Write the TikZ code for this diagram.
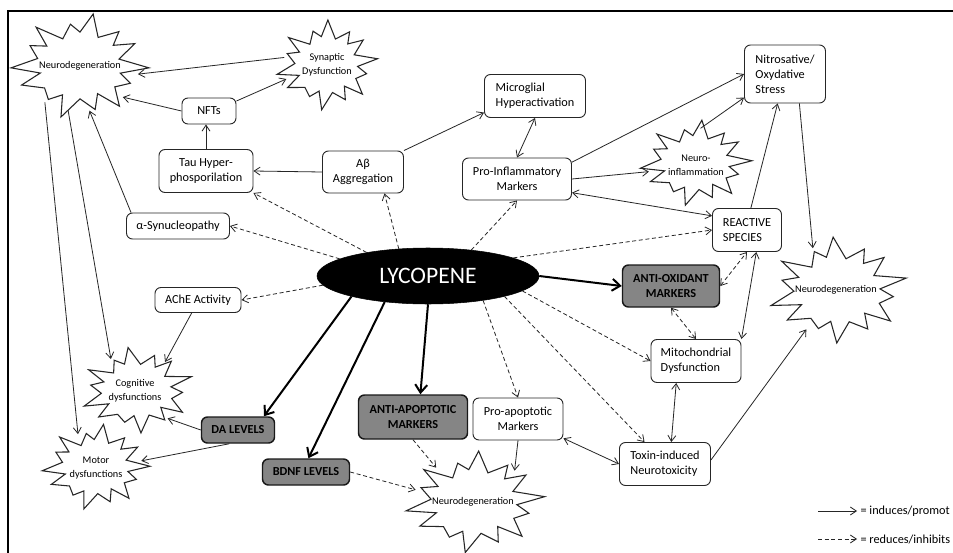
\documentclass[tikz,border=0pt]{standalone}
\usepackage{fontspec}
\setmainfont{Carlito}
\usetikzlibrary{arrows.meta,shapes.geometric}
\newcommand{\boom}[4]{%
  \begin{scope}[shift={#1},xscale=#2,yscale=#3,rotate=#4]
    \draw[starline] (2:1.0) -- (13:0.6) -- (24:0.8) -- (38:0.64) -- (53:0.95) -- (64:0.58) -- (75:0.85)
      -- (90:0.62) -- (106:1.0) -- (115:0.6) -- (126:0.78) -- (141:0.66) -- (157:0.92) -- (167:0.59)
      -- (178:1.0) -- (193:0.63) -- (208:0.82) -- (218:0.61) -- (229:0.97) -- (244:0.57) -- (260:0.8)
      -- (270:0.64) -- (281:1.0) -- (296:0.6) -- (311:0.86) -- (321:0.62) -- (332:0.9) -- (347:0.58) -- cycle;
  \end{scope}}
\tikzset{
  box/.style={draw=black!85, line width=0.7pt, rounded corners=4.5pt, fill=white, align=center, inner sep=0pt,
    font=\fontsize{9.2}{11.25}\selectfont},
  gbox/.style={box, fill=black!48, draw=black!90, line width=1.1pt, font=\bfseries\fontsize{9.2}{11.25}\selectfont},
  burst/.style 2 args={ellipse, inner sep=0pt, align=center, minimum width={1.275*#1*1pt}, minimum height={1.275*#2*1pt},
    font=\fontsize{7.7}{10.5}\selectfont},
  starline/.style={draw=black!85, fill=white, line width=0.8pt},
  arr/.style={draw=black!85, line width=0.6pt, -{Straight Barb[length=4.5pt,width=6pt]}},
  darr/.style={arr, {Straight Barb[length=4.5pt,width=6pt]}-{Straight Barb[length=4.5pt,width=6pt]}},
  dsh/.style={dash pattern=on 3pt off 2pt},
  bigarr/.style={draw=black, line width=1.5pt, -{Straight Barb[length=6pt,width=9pt]}},
  legtext/.style={anchor=west, inner sep=2.5pt, font=\fontsize{9.2}{11}\selectfont},
}
\begin{document}
\begin{tikzpicture}[x=0.75pt,y=-0.75pt]
\useasboundingbox (0,0) rectangle (953,553);
\fill[white] (0,0) rectangle (953,553);
\draw[line width=1.5pt] (953,11) -- (8,11) -- (8,553);

% starbursts
\boom{(80,66)}{69}{53}{0}
\boom{(327,65)}{51}{45}{10}
\boom{(696,163)}{56}{43}{5}
\boom{(838,290)}{70}{53}{15}
\boom{(475,502)}{70}{51}{8}
\boom{(137,390)}{57}{43}{20}
\boom{(96,467)}{54}{43}{3}

\node[burst={69}{53}] (neuTL) at (80,66) {Neurodegeneration};
\node[burst={51}{45}] (syn) at (327,65) {Synaptic\\Dysfunction};
\node[burst={56}{43}] (neuInf) at (696,165) {Neuro-\\inflammation};
\node[burst={70}{53}] (neuR) at (836,290) {Neurodegeneration};
\node[burst={70}{51}] (neuB) at (473,502) {Neurodegeneration};
\node[burst={57}{43}] (cog) at (135,391) {Cognitive\\dysfunctions};
\node[burst={54}{43}] (mot) at (96,468) {Motor\\dysfunctions};

% boxes
\node[box, minimum width=40.5pt, minimum height=19.5pt] (nfts) at (209,111) {NFTs};
\node[box, minimum width=70.5pt, minimum height=32.25pt] (tau) at (206,171) {Tau Hyper-\\phosporilation};
\node[box, minimum width=60.75pt, minimum height=31.5pt] (abeta) at (363,172) {Aβ\\Aggregation};
\node[box, align=left, minimum width=75.75pt, minimum height=32.25pt] (micro) at (535,96) {Microglial\\Hyperactivation};
\node[box, minimum width=81.75pt, minimum height=31.5pt] (proinf) at (517,179) {Pro-Inflammatory\\Markers};
\node[box, align=left, minimum width=60.75pt, minimum height=43.5pt] (nitro) at (785,74) {Nitrosative/\\Oxydative\\Stress};
\node[box, align=left, minimum width=51.75pt, minimum height=32.25pt] (react) at (747,230) {REACTIVE\\SPECIES};
\node[gbox, minimum width=72.75pt, minimum height=31.5pt] (antiox) at (671,286) {ANTI-OXIDANT\\MARKERS};
\node[box, align=left, minimum width=67.5pt, minimum height=32.25pt] (mito) at (696,361) {Mitochondrial\\Dysfunction};
\node[box, align=left, minimum width=68.25pt, minimum height=32.25pt] (toxin) at (665,464) {Toxin-induced\\Neurotoxicity};
\node[box, minimum width=67.5pt, minimum height=31.5pt] (proapop) at (518,419) {Pro-apoptotic\\Markers};
\node[gbox, minimum width=81.75pt, minimum height=33pt] (antiapop) at (413,417) {ANTI-APOPTOTIC\\MARKERS};
\node[gbox, minimum width=65.25pt, minimum height=19.5pt] (bdnf) at (306,472) {BDNF LEVELS};
\node[gbox, minimum width=54.75pt, minimum height=19.5pt] (da) at (238,430) {DA LEVELS};
\node[box, minimum width=77.25pt, minimum height=19.5pt] (asyn) at (178,226) {α-Synucleopathy};
\node[box, minimum width=64.5pt, minimum height=18.75pt] (ache) at (198,300) {AChE Activity};

\node[ellipse, fill=black, draw=black, inner sep=0pt, minimum width=166.5pt, minimum height=42pt,
  text=white, font=\fontsize{17.7}{20}\selectfont] (lyco) at (428,276) {LYCOPENE};

% solid connectors
\draw[arr] (syn.170) -- (neuTL.-8);
\draw[arr] (nfts.west) -- (neuTL.-36);
\draw[arr] (nfts.20) -- (syn.199);
\draw[arr] (tau.north) -- (tau.north |- nfts.south);
\draw[arr] (abeta.west) -- (tau.east);
\draw[arr] (abeta.north east) -- (micro.198);
\draw[darr] (micro.south) -- (proinf.north);
\draw[arr] (proinf.17) -- (nitro.west);
\draw[arr] (proinf.east) -- (neuInf.188);
\draw[arr] (neuInf.83) -- (nitro.210);
\draw[darr] (proinf.-14) -- (react.158);
\draw[arr] (react.80) -- (nitro.256);
\draw[arr] (nitro.-64) -- (neuR.119);
\draw[darr] (react.-67) -- (mito.north east);
\draw[arr] (toxin.5) -- (neuR.233);
\draw[darr] (mito.228) -- (toxin.74);
\draw[darr] (proapop.-23) -- (toxin.west);
\draw[arr] (proapop.south) -- (neuB.37);
\draw[arr] (da.west) -- (cog.-40);
\draw[arr] (da.238) -- (mot.9);
\draw[arr] (ache.244) -- (cog.44);
\draw[arr] (asyn.164) -- (neuTL.-78);
\draw[arr] (neuTL.255) -- (cog.127);
\draw[arr] (neuTL.226) -- (mot.118);

% dashed connectors
\draw[arr,dsh] (lyco.159) -- (tau.south east);
\draw[arr,dsh] (lyco.169) -- (asyn.east);
\draw[arr,dsh] (lyco.185) -- (ache.east);
\draw[arr,dsh] (lyco.137) -- (abeta.-45);
\draw[arr,dsh] (lyco.31) -- (proinf.south);
\draw[arr,dsh] (lyco.12) -- (react.west);
\draw[arr,dsh] (lyco.-9) -- (mito.west);
\draw[arr,dsh] (lyco.-15) -- (toxin.133);
\draw[arr,dsh] (lyco.-24) -- (proapop.north);
\draw[arr,dsh] (antiapop.south) -- (neuB.137);
\draw[arr,dsh] (bdnf.east) -- (neuB.168);
\draw[darr,dsh] (antiox.east) -- (react.south);
\draw[darr,dsh] (antiox.south) -- (mito.north);

% thick connectors
\draw[bigarr] (lyco.east) -- (antiox.west);
\draw[bigarr] (lyco.south) -- (antiapop.72);
\draw[bigarr] (lyco.211) -- (bdnf.80);
\draw[bigarr] (lyco.195) -- (da.28);

% legend
\node[legtext] (leg1) at (857,511) {= induces/promot};
\node[legtext] (leg2) at (857,539) {= reduces/inhibits};
\coordinate (l1) at (818,511);
\coordinate (l2) at (818,539);
\draw[arr] (l1) -- (leg1.west);
\draw[arr,dsh] (l2) -- (leg2.west);
\end{tikzpicture}
\end{document}
